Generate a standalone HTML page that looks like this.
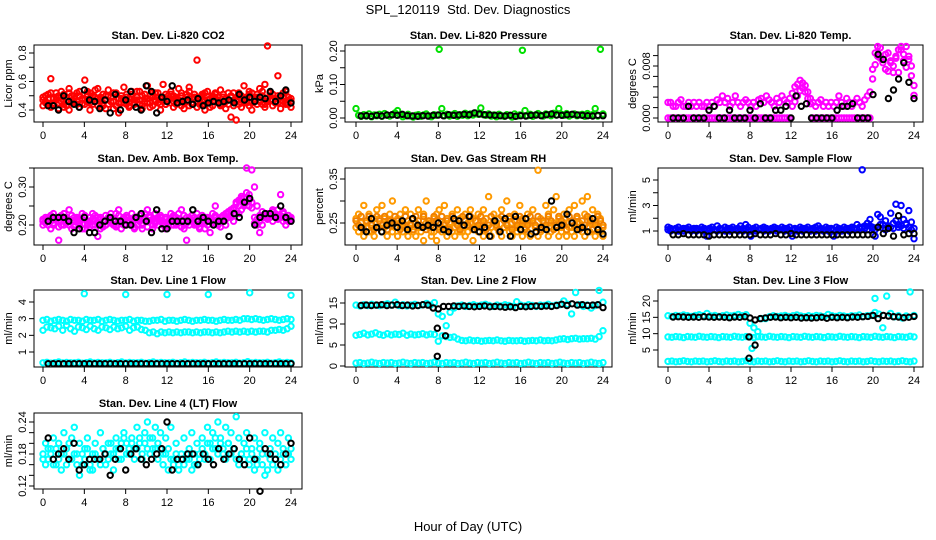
<!DOCTYPE html>
<html><head><meta charset="utf-8"><style>
body{margin:0;background:#fff}
svg{display:block;font-family:"Liberation Sans",sans-serif}
</style></head><body>
<svg id="c" width="936" height="540" viewBox="0 0 936 540" xmlns="http://www.w3.org/2000/svg">
<text x="468" y="14" font-size="13" text-anchor="middle">SPL_120119&#160; Std. Dev. Diagnostics</text>
<text x="468" y="531" font-size="13" text-anchor="middle">Hour of Day (UTC)</text>
</svg>
<script>
const xTickHours=[0,4,8,12,16,20,24];
const co2RedA=[0.47,0.50,0.44,0.62,0.48,0.52,0.45,0.49,0.51,0.43,0.55,0.46,0.50,0.44,0.53,0.48,0.61,0.46,0.52,0.44,0.49,0.55,0.47,0.43,0.50,0.54,0.46,0.41,0.52,0.48,0.45,0.56,0.49,0.43,0.51,0.47,0.53,0.44,0.50,0.46,0.57,0.42,0.49,0.52,0.45,0.48,0.58,0.44,0.50,0.53,0.46,0.49,0.55,0.43,0.47,0.51,0.56,0.45,0.48,0.75,0.44,0.50,0.46,0.53,0.42,0.49,0.51,0.47,0.54,0.44,0.48,0.52,0.35,0.46,0.33,0.50,0.45,0.57,0.48,0.43,0.52,0.46,0.49,0.55,0.44,0.58,0.85,0.47,0.51,0.45,0.64,0.49,0.46,0.53,0.44,0.48];
const co2RedB=[0.43,0.46,0.51,0.42,0.45,0.49,0.41,0.53,0.44,0.47,0.40,0.50,0.45,0.52,0.42,0.48,0.44,0.51,0.40,0.47,0.54,0.43,0.49,0.45,0.41,0.50,0.46,0.52,0.43,0.38,0.48,0.45,0.51,0.42,0.49,0.44,0.47,0.53,0.41,0.48,0.45,0.50,0.43,0.46,0.52,0.40,0.49,0.44,0.47,0.51,0.42,0.48,0.45,0.50,0.41,0.46,0.53,0.44,0.49,0.42,0.47,0.51,0.40,0.45,0.48,0.43,0.52,0.46,0.44,0.49,0.41,0.47,0.50,0.43,0.46,0.52,0.42,0.48,0.45,0.51,0.40,0.47,0.44,0.49,0.53,0.42,0.46,0.50,0.43,0.48,0.45,0.41,0.49,0.44,0.47,0.42];
const co2RedC=[0.49,0.45,0.48,0.52,0.44,0.47,0.50,0.46,0.42,0.49,0.52,0.45,0.48,0.46,0.50,0.44,0.47,0.53,0.45,0.50,0.46,0.48,0.42,0.51,0.47,0.44,0.49,0.46,0.51,0.45,0.50,0.47,0.44,0.48,0.53,0.45,0.49,0.47,0.43,0.51,0.48,0.45,0.52,0.47,0.49,0.44,0.46,0.51,0.48,0.45,0.50,0.44,0.47,0.52,0.45,0.49,0.43,0.48,0.51,0.46,0.49,0.44,0.52,0.47,0.45,0.50,0.46,0.49,0.43,0.51,0.46,0.44,0.49,0.52,0.47,0.44,0.50,0.46,0.49,0.53,0.45,0.48,0.51,0.46,0.50,0.44,0.48,0.52,0.47,0.45,0.50,0.47,0.52,0.45,0.49,0.46];
const co2Black=[0.43,0.43,0.40,0.50,0.46,0.44,0.42,0.54,0.47,0.46,0.41,0.47,0.38,0.51,0.40,0.47,0.53,0.42,0.40,0.57,0.53,0.38,0.49,0.46,0.57,0.45,0.46,0.47,0.44,0.48,0.43,0.45,0.46,0.45,0.46,0.47,0.45,0.51,0.47,0.49,0.46,0.49,0.48,0.53,0.46,0.50,0.54,0.45];
const presGreen=[0.028,0.008,0.005,0.010,0.006,0.012,0.004,0.009,0.007,0.011,0.005,0.013,0.008,0.006,0.010,0.015,0.022,0.009,0.004,0.007,0.011,0.006,0.003,0.008,0.010,0.005,0.009,0.012,0.006,0.004,0.010,0.008,0.205,0.028,0.007,0.011,0.006,0.009,0.013,0.005,0.010,0.008,0.014,0.007,0.012,0.009,0.015,0.011,0.030,0.010,0.008,0.012,0.006,0.009,0.004,0.011,0.007,0.005,0.010,0.008,0.003,0.012,0.006,0.009,0.202,0.022,0.007,0.011,0.005,0.009,0.013,0.008,0.006,0.012,0.010,0.007,0.014,0.009,0.028,0.011,0.008,0.013,0.006,0.010,0.012,0.007,0.009,0.011,0.005,0.013,0.008,0.010,0.028,0.006,0.205,0.012];
const presBlack=[0.006,0.007,0.005,0.008,0.006,0.009,0.010,0.008,0.011,0.007,0.006,0.005,0.007,0.006,0.008,0.009,0.007,0.010,0.008,0.009,0.011,0.010,0.015,0.012,0.010,0.009,0.008,0.007,0.006,0.008,0.005,0.007,0.006,0.008,0.009,0.007,0.010,0.012,0.009,0.008,0.010,0.011,0.009,0.008,0.007,0.006,0.008,0.007];
const tempMagLow=[0,0,0,0,0,0,0,0,0,0,0,0,0,0,0,0,0,0,0,0,0,0,0,0,0,0,0,0,0,0,0,0,0,0,0,0,0,0,0,0,0,0,0,0,0,0,0,0,0.0018,0.0025,0.0034,0.0042,0.0046,0.0040,0.0030,0.0022,0,0,0,0,0,0,0,0,0,0,0,0,0,0,0,0,0,0,0,0,0,0,0,0.0060,0.0082,0.0095,0.0108,0.0090,0.0075,0.0100,0.0085,0.0070,0.0092,0.0105,0.0110,0.0088,0.0078,0.0095,0.0065,0.0050];
const tempMagHigh=[0.0024,0.0024,0.0018,0.0018,0.0024,0.0028,0.0018,0.0018,0.0024,0.0018,0.0024,0.0018,0.0024,0.0018,0.0018,0.0024,0.0018,0.0024,0.0018,0.0028,0.0024,0.0034,0.0024,0.0030,0.0018,0.0024,0.0034,0.0024,0.0018,0.0024,0.0028,0.0024,0.0018,0.0024,0.0018,0.0028,0.0030,0.0024,0.0034,0.0028,0.0024,0.0018,0.0030,0.0024,0.0034,0.0028,0.0024,0.0030,0.0038,0.0048,0.0052,0.0058,0.0054,0.0050,0.0040,0.0030,0.0024,0.0018,0.0024,0.0028,0.0018,0.0024,0.0018,0.0024,0.0018,0.0024,0.0034,0.0024,0.0018,0.0030,0.0024,0.0018,0.0024,0.0030,0.0024,0.0018,0.0028,0.0034,0.0040,0.0075,0.0100,0.0110,0.0092,0.0085,0.0098,0.0072,0.0088,0.0080,0.0095,0.0070,0.0105,0.0098,0.0110,0.0090,0.0080,0.0035];
const tempBlack=[0,0,0,0.0018,0,0,0,0.0012,0.0018,0,0,0.0012,0,0,0,0.0012,0,0.0022,0,0,0.0012,0.0012,0.0018,0,0.0034,0.0018,0.0022,0,0,0,0,0,0.0012,0.0018,0.0018,0.0022,0,0,0,0.0036,0.0098,0.0090,0.0030,0.0043,0.0060,0.0085,0.0055,0.0030];
const ambMagA=[0.21,0.22,0.20,0.21,0.23,0.22,0.16,0.21,0.20,0.22,0.24,0.21,0.20,0.22,0.21,0.19,0.22,0.20,0.21,0.23,0.20,0.17,0.22,0.21,0.20,0.22,0.23,0.21,0.20,0.24,0.21,0.22,0.20,0.21,0.23,0.22,0.20,0.21,0.19,0.22,0.24,0.21,0.20,0.23,0.22,0.21,0.20,0.22,0.21,0.23,0.20,0.22,0.21,0.24,0.20,0.16,0.22,0.21,0.20,0.23,0.22,0.21,0.19,0.22,0.21,0.23,0.25,0.20,0.22,0.21,0.23,0.22,0.24,0.21,0.26,0.23,0.27,0.25,0.35,0.28,0.26,0.30,0.25,0.18,0.20,0.22,0.23,0.22,0.24,0.23,0.22,0.28,0.23,0.22,0.21,0.22];
const ambMagB=[0.20,0.21,0.22,0.19,0.20,0.22,0.21,0.20,0.23,0.21,0.20,0.19,0.22,0.21,0.20,0.23,0.19,0.21,0.22,0.20,0.21,0.22,0.19,0.21,0.20,0.21,0.22,0.20,0.23,0.21,0.19,0.20,0.22,0.21,0.20,0.19,0.22,0.21,0.20,0.23,0.21,0.22,0.19,0.21,0.20,0.22,0.21,0.19,0.20,0.21,0.22,0.20,0.23,0.21,0.19,0.22,0.20,0.21,0.22,0.20,0.19,0.21,0.22,0.20,0.18,0.21,0.22,0.20,0.21,0.22,0.20,0.23,0.22,0.24,0.23,0.25,0.24,0.27,0.26,0.25,0.345,0.22,0.20,0.21,0.22,0.23,0.22,0.23,0.21,0.22,0.24,0.22,0.21,0.20,0.21,0.21];
const ambMagC=[0.215,0.205,0.215,0.225,0.205,0.215,0.195,0.225,0.215,0.205,0.215,0.225,0.195,0.215,0.205,0.215,0.225,0.205,0.195,0.215,0.225,0.205,0.215,0.195,0.225,0.215,0.205,0.215,0.195,0.225,0.205,0.215,0.225,0.205,0.215,0.195,0.215,0.225,0.205,0.215,0.195,0.225,0.215,0.205,0.215,0.225,0.205,0.215,0.195,0.215,0.225,0.205,0.215,0.195,0.225,0.205,0.215,0.225,0.205,0.215,0.195,0.225,0.205,0.215,0.215,0.205,0.225,0.215,0.195,0.225,0.215,0.235,0.225,0.245,0.255,0.265,0.275,0.255,0.285,0.265,0.245,0.205,0.215,0.225,0.235,0.225,0.215,0.225,0.235,0.225,0.215,0.225,0.235,0.215,0.225,0.215];
const ambBlack=[0.21,0.22,0.22,0.22,0.21,0.18,0.19,0.22,0.18,0.18,0.20,0.21,0.22,0.21,0.21,0.20,0.20,0.22,0.23,0.21,0.18,0.24,0.19,0.19,0.21,0.21,0.21,0.21,0.24,0.21,0.22,0.21,0.20,0.21,0.21,0.17,0.23,0.22,0.26,0.27,0.20,0.22,0.23,0.23,0.22,0.25,0.22,0.21];
const rhOrangeA=[0.26,0.27,0.24,0.29,0.25,0.27,0.23,0.26,0.28,0.24,0.29,0.26,0.25,0.27,0.30,0.24,0.26,0.27,0.25,0.28,0.24,0.27,0.26,0.25,0.28,0.24,0.27,0.30,0.25,0.23,0.26,0.27,0.28,0.24,0.29,0.26,0.25,0.27,0.24,0.28,0.26,0.23,0.27,0.25,0.28,0.26,0.24,0.27,0.25,0.28,0.26,0.31,0.24,0.27,0.25,0.26,0.28,0.24,0.30,0.26,0.25,0.27,0.24,0.29,0.26,0.25,0.27,0.25,0.28,0.24,0.37,0.26,0.25,0.29,0.27,0.25,0.28,0.31,0.26,0.24,0.27,0.25,0.28,0.24,0.29,0.26,0.25,0.30,0.27,0.31,0.26,0.28,0.25,0.27,0.26,0.24];
const rhOrangeB=[0.24,0.23,0.25,0.22,0.24,0.23,0.25,0.22,0.24,0.26,0.23,0.24,0.22,0.25,0.23,0.24,0.22,0.25,0.23,0.24,0.22,0.25,0.23,0.22,0.24,0.23,0.21,0.25,0.24,0.22,0.23,0.21,0.24,0.23,0.25,0.22,0.24,0.23,0.22,0.25,0.23,0.24,0.22,0.23,0.25,0.21,0.24,0.23,0.25,0.22,0.24,0.23,0.22,0.25,0.24,0.23,0.22,0.24,0.25,0.23,0.22,0.24,0.23,0.25,0.22,0.24,0.23,0.22,0.25,0.24,0.22,0.23,0.25,0.24,0.22,0.23,0.25,0.24,0.22,0.23,0.25,0.22,0.24,0.23,0.22,0.25,0.24,0.23,0.22,0.24,0.23,0.25,0.22,0.24,0.23,0.22];
const rhOrangeC=[0.255,0.245,0.265,0.235,0.255,0.265,0.245,0.235,0.265,0.255,0.245,0.265,0.235,0.255,0.245,0.265,0.255,0.235,0.245,0.265,0.255,0.245,0.235,0.265,0.255,0.245,0.265,0.235,0.255,0.245,0.265,0.255,0.235,0.265,0.245,0.255,0.235,0.265,0.255,0.245,0.235,0.265,0.255,0.245,0.265,0.235,0.255,0.245,0.265,0.255,0.235,0.245,0.265,0.255,0.245,0.235,0.265,0.255,0.245,0.265,0.235,0.255,0.245,0.265,0.255,0.235,0.245,0.265,0.255,0.245,0.265,0.235,0.255,0.245,0.265,0.255,0.235,0.245,0.265,0.255,0.245,0.235,0.265,0.255,0.245,0.265,0.235,0.255,0.245,0.265,0.255,0.235,0.245,0.265,0.255,0.245];
const rhBlack=[0.24,0.23,0.26,0.24,0.23,0.245,0.25,0.24,0.255,0.235,0.26,0.245,0.24,0.245,0.24,0.25,0.235,0.23,0.26,0.255,0.245,0.265,0.235,0.23,0.24,0.22,0.255,0.23,0.26,0.22,0.265,0.235,0.26,0.225,0.23,0.24,0.235,0.30,0.24,0.245,0.27,0.25,0.235,0.24,0.23,0.26,0.235,0.225];
const flowBlueA=[1.3,1.2,1.1,1.2,1.3,1.1,1.2,1.2,1.3,1.1,1.2,1.2,1.1,1.3,1.2,0.6,1.2,1.3,1.1,1.4,1.2,1.1,1.3,1.2,1.2,1.3,1.1,1.2,1.4,1.2,1.5,1.3,0.6,1.2,1.3,1.1,1.2,1.3,1.2,1.1,1.2,1.3,1.2,1.1,1.3,1.2,1.2,1.3,0.6,1.2,1.1,1.3,1.2,1.2,1.3,1.1,1.2,1.3,1.4,1.2,1.1,1.3,1.2,1.2,0.6,1.3,1.2,1.1,1.3,1.2,1.2,1.3,1.2,1.5,1.3,5.8,1.4,1.6,1.9,1.3,0.6,2.3,2.1,1.5,1.8,1.3,2.4,1.6,3.1,1.5,3.0,1.9,1.6,2.6,1.7,0.4];
const flowBlueB=[1.1,1.0,1.1,1.1,1.0,1.1,1.0,1.1,1.1,1.0,1.1,1.0,1.1,1.1,1.0,1.1,1.0,1.1,1.1,1.0,1.1,1.1,1.0,1.1,1.0,1.1,1.1,1.0,1.1,1.0,1.1,1.1,1.0,1.1,1.0,1.1,1.1,1.0,1.1,1.0,1.1,1.1,1.0,1.1,1.1,1.0,1.1,1.0,1.1,1.1,1.0,1.1,1.0,1.1,1.1,1.0,1.1,1.0,1.1,1.1,1.0,1.1,1.0,1.1,1.1,1.0,1.1,1.0,1.1,1.1,1.0,1.1,1.2,1.1,1.2,1.3,1.2,1.1,1.4,1.2,1.1,1.3,1.5,1.2,1.1,1.4,1.3,1.2,1.8,1.3,1.4,1.2,1.5,1.3,1.1,1.2];
const flowBlack=[0.7,0.7,0.8,0.7,0.7,0.7,0.7,0.6,0.7,0.7,0.7,0.7,0.7,0.7,0.7,0.7,0.8,0.7,0.7,0.7,0.8,0.7,0.7,0.8,0.7,0.7,0.7,0.7,0.7,0.7,0.7,0.7,0.7,0.7,0.7,0.7,0.7,0.7,0.7,0.7,1.3,0.8,1.2,0.6,2.2,0.7,0.8,0.8];
const l1Top=[2.9,2.95,2.85,2.9,2.95,2.9,2.85,2.95,2.9,2.9,2.85,2.95,2.9,2.9,2.95,2.85,2.9,2.95,2.9,2.85,2.9,2.9,2.95,2.85,2.9,2.9,2.85,2.85,2.9,2.9,2.95,2.85,2.9,2.9,2.85,2.9,2.95,2.9,2.85,2.9,2.9,2.95,2.9,2.9,2.85,2.9,2.95,2.9,2.9,2.95,2.9,3.0,3.0,2.95,3.0,2.95,2.9,2.95,3.0,2.95,2.9,2.95,3.0,2.95];
const l1Mid=[2.3,2.5,2.45,2.4,2.55,2.3,2.6,2.4,2.25,2.5,2.45,2.35,2.55,2.4,2.3,2.5,2.45,2.35,2.5,2.4,2.45,2.55,2.3,2.45,2.5,2.35,2.3,2.15,2.2,2.1,2.2,2.15,2.2,2.15,2.2,2.15,2.2,2.2,2.15,2.2,2.15,2.2,2.2,2.15,2.2,2.15,2.2,2.25,2.2,2.25,2.2,2.25,2.2,2.25,2.2,2.25,2.25,2.2,2.3,2.3,2.35,2.3,2.4,2.55];
const l1Low=[0.35,0.38,0.33,0.36,0.4,0.34,0.37,0.35,0.35,0.38,0.33,0.36,0.4,0.34,0.37,0.35,0.35,0.38,0.33,0.36,0.4,0.34,0.37,0.35,0.35,0.38,0.33,0.36,0.4,0.34,0.37,0.35,0.35,0.38,0.33,0.36,0.4,0.34,0.37,0.35,0.35,0.38,0.33,0.36,0.4,0.34,0.37,0.35,0.35,0.38,0.33,0.36,0.42,0.34,0.37,0.35,0.35,0.38,0.33,0.36,0.4,0.34,0.37,0.35];
const l1OutHours=[4,8,12,16,20,24];
const l1OutVals=[4.5,4.45,4.45,4.45,4.55,4.4];
const l1Black=[0.3,0.3,0.3,0.3,0.3,0.3,0.3,0.3,0.3,0.3,0.3,0.3,0.3,0.3,0.3,0.3,0.3,0.3,0.3,0.3,0.3,0.3,0.3,0.3,0.3,0.3,0.3,0.3,0.3,0.3,0.3,0.3,0.3,0.3,0.3,0.3,0.3,0.3,0.3,0.3,0.3,0.3,0.3,0.3,0.3,0.3,0.3,0.3];
const l2Top=[14.5,14.3,14.6,14.4,14.7,14.5,14.4,14.6,14.8,14.5,15.2,14.4,14.6,14.3,14.5,14.7,14.4,14.6,14.9,14.5,15.1,12.4,11.8,9.6,12.8,13.8,14.3,14.5,14.2,14.4,14.6,14.3,14.5,14.7,14.4,14.2,14.5,14.3,14.6,14.4,14.2,15.3,14.5,14.3,14.6,14.4,14.2,14.5,14.4,14.7,14.3,14.5,14.6,15.5,14.7,12.4,17.5,14.6,14.2,14.5,13.8,14.4,18.0,15.2];
const l2Mid=[7.3,7.5,7.8,7.4,7.6,7.9,7.5,7.3,7.7,7.4,7.6,7.5,7.8,7.3,7.6,7.4,7.5,7.7,7.4,7.6,7.5,5.9,7.2,7.0,6.8,6.9,6.4,6.1,6.0,6.2,6.0,6.1,5.9,6.0,6.1,6.0,6.2,6.0,5.9,6.1,6.0,6.0,6.1,5.9,6.0,6.1,6.0,6.2,6.0,6.1,6.0,6.2,6.4,6.5,6.3,6.5,6.6,6.4,6.5,6.5,6.6,6.4,7.0,8.4];
const l2Low=[0.7,0.8,0.6,0.7,0.9,0.7,0.6,0.8,0.7,0.8,0.6,0.7,0.9,0.7,0.6,0.8,0.7,0.8,0.6,0.7,0.9,0.7,0.6,0.8,0.7,0.8,0.6,0.7,0.9,0.7,0.6,0.8,0.7,0.8,0.6,0.7,0.9,0.7,0.6,0.8,0.7,0.8,0.6,0.7,0.9,0.7,0.6,0.8,0.7,0.8,0.6,0.7,0.9,0.7,0.6,0.8,0.7,0.8,0.6,0.7,0.9,0.7,0.6,0.8];
const l2Black=[14.4,14.5,14.4,14.5,14.6,14.4,14.5,14.6,14.4,14.5,14.3,14.4,14.6,14.5,13.8,13.6,14.2,14.2,14.3,14.2,14.3,14.2,14.1,14.2,14.3,14.1,14.2,14.1,14.0,14.1,13.9,14.2,14.1,14.2,14.3,14.2,14.3,14.2,14.4,14.7,14.4,14.8,14.5,14.6,14.4,14.5,14.6,13.9];
const l2BlackOutHours=[7.9,7.9,8.7];
const l2BlackOutVals=[9.0,2.3,7.2];
const l3Top=[15.5,15.3,15.6,15.4,15.7,15.5,15.3,15.6,15.8,15.5,16.2,15.4,15.6,15.3,15.5,15.7,15.4,15.6,15.9,15.5,15.8,13.2,11.8,10.6,14.6,14.6,15.2,15.5,15.3,15.4,15.6,15.3,15.5,15.7,15.4,15.2,15.5,15.3,15.6,15.4,15.2,15.9,15.5,15.3,15.6,15.4,15.2,15.5,15.4,15.7,15.3,15.5,15.6,16.5,16.0,11.8,21.5,16.2,15.2,15.5,14.8,15.4,22.8,15.6];
const l3OutHours=[8.2,20.2];
const l3OutVals=[5.5,20.8];
const l3Mid=[9.0,8.9,9.1,9.0,8.8,9.1,9.0,8.9,9.2,9.0,8.9,9.1,9.0,8.8,9.1,9.0,8.9,9.2,9.0,8.9,9.1,9.0,8.8,9.1,9.0,8.9,9.2,9.0,8.9,9.1,9.0,8.8,9.1,9.0,8.9,9.2,9.0,8.9,9.1,9.0,8.8,9.1,9.0,8.9,9.2,9.0,8.9,9.1,9.0,8.8,9.1,9.0,8.9,9.2,9.0,8.9,9.1,9.0,8.8,9.1,9.0,8.9,9.2,9.0];
const l3Low=[1.5,1.6,1.4,1.5,1.7,1.5,1.4,1.6,1.5,1.6,1.4,1.5,1.7,1.5,1.4,1.6,1.5,1.6,1.4,1.5,1.7,1.5,1.4,1.6,1.5,1.6,1.4,1.5,1.7,1.5,1.4,1.6,1.5,1.6,1.4,1.5,1.7,1.5,1.4,1.6,1.5,1.6,1.4,1.5,1.7,1.5,1.4,1.6,1.5,1.6,1.4,1.5,1.7,1.5,1.4,1.6,1.5,1.6,1.4,1.5,1.7,1.5,1.4,1.6];
const l3Black=[15.1,15.2,15.1,15.0,15.1,15.0,15.2,15.1,15.0,15.1,15.0,14.9,15.1,15.0,15.2,14.8,14.2,14.6,14.8,15.0,15.1,14.9,15.0,14.9,15.0,14.8,14.9,14.8,14.9,15.0,14.7,15.0,14.9,15.0,14.9,15.1,15.0,15.2,15.3,15.6,14.6,15.6,15.4,15.2,15.1,14.9,15.0,15.3];
const l3BlackOutHours=[7.9,7.9,8.5];
const l3BlackOutVals=[9.0,2.5,6.5];
const l4CyanA=[0.18,0.20,0.17,0.19,0.21,0.16,0.20,0.18,0.22,0.19,0.17,0.21,0.23,0.18,0.20,0.16,0.19,0.21,0.15,0.18,0.20,0.17,0.22,0.19,0.16,0.20,0.18,0.15,0.21,0.19,0.17,0.22,0.20,0.18,0.21,0.19,0.23,0.20,0.17,0.22,0.24,0.21,0.19,0.23,0.20,0.22,0.18,0.21,0.19,0.23,0.17,0.20,0.16,0.18,0.21,0.17,0.19,0.22,0.16,0.20,0.18,0.21,0.17,0.23,0.20,0.22,0.19,0.24,0.21,0.18,0.23,0.20,0.22,0.19,0.25,0.21,0.18,0.20,0.22,0.17,0.19,0.21,0.16,0.20,0.18,0.22,0.15,0.19,0.21,0.17,0.20,0.22,0.18,0.16,0.21,0.19];
const l4CyanB=[0.17,0.16,0.19,0.18,0.16,0.19,0.17,0.15,0.18,0.16,0.20,0.17,0.18,0.16,0.14,0.18,0.17,0.19,0.16,0.15,0.18,0.17,0.16,0.19,0.18,0.17,0.20,0.18,0.19,0.17,0.20,0.21,0.18,0.19,0.20,0.17,0.19,0.21,0.18,0.20,0.19,0.18,0.21,0.19,0.17,0.19,0.16,0.18,0.15,0.17,0.16,0.18,0.15,0.17,0.16,0.18,0.17,0.15,0.18,0.16,0.17,0.19,0.18,0.20,0.17,0.19,0.21,0.18,0.20,0.19,0.17,0.20,0.18,0.19,0.17,0.16,0.18,0.17,0.19,0.16,0.18,0.15,0.17,0.19,0.16,0.14,0.18,0.17,0.16,0.18,0.15,0.17,0.19,0.16,0.18,0.17];
const l4Black=[0.21,0.17,0.18,0.19,0.17,0.20,0.15,0.16,0.17,0.17,0.17,0.18,0.14,0.17,0.19,0.15,0.18,0.19,0.17,0.16,0.17,0.18,0.19,0.24,0.15,0.17,0.17,0.18,0.18,0.16,0.18,0.17,0.16,0.19,0.17,0.18,0.19,0.17,0.16,0.21,0.17,0.11,0.19,0.18,0.17,0.16,0.18,0.20];

const NS='http://www.w3.org/2000/svg';
const svg=document.getElementById('c');
function mk(tag,attrs,parent){const e=document.createElementNS(NS,tag);for(const k in attrs)e.setAttribute(k,attrs[k]);(parent||svg).appendChild(e);return e;}
function evenHours(n,a,b){const h=[];for(let i=0;i<n;i++)h.push(a+(b-a)*i/(n-1));return h;}
const COLS={L:[34,302,43,291],M:[345,612,356,603],R:[658,923,668,914]};
const ROWS=[[45,122],[168,245],[290,367],[413,489]];

function panel(p){
  const c=COLS[p.col],r=ROWS[p.row];
  const g=mk('g',{});
  
  
  const X=h=>c[2]+(c[3]-c[2])*h/24;
  const Y=v=>p.ya[1]+(v-p.ya[0])*(p.ya[3]-p.ya[1])/(p.ya[2]-p.ya[0]);
  const t=mk('text',{x:(c[0]+c[1])/2,y:r[0]-6,'font-size':11,'font-weight':'bold','text-anchor':'middle'},g);
  t.textContent=p.title;
  
  
  const box=mk('rect',{x:c[0],y:r[0],width:c[1]-c[0],height:r[1]-r[0],fill:'none',stroke:'#000','stroke-width':1},g);
  
  
  const xa=mk('g',{},g);
  
  
  mk('line',{x1:X(0),x2:X(24),y1:r[1],y2:r[1],stroke:'#000'},xa);
  xTickHours.forEach(h=>{
    mk('line',{x1:X(h),x2:X(h),y1:r[1],y2:r[1]+5,stroke:'#000'},xa);
    const l=mk('text',{x:X(h),y:r[1]+17,'font-size':11,'text-anchor':'middle'},xa);
    l.textContent=h;
    
    
  });
  const ya=mk('g',{},g);
  
  
  const yt=p.yticks;
  mk('line',{x1:c[0],x2:c[0],y1:Y(yt[0]),y2:Y(yt[yt.length-1]),stroke:'#000'},ya);
  yt.forEach(v=>mk('line',{x1:c[0]-5,x2:c[0],y1:Y(v),y2:Y(v),stroke:'#000'},ya));
  p.ylabels.forEach((s,i)=>{
    const v=p.ylabelVals[i];
    const l=mk('text',{x:0,y:0,'font-size':11,'text-anchor':'middle',transform:`translate(${c[0]-8},${Y(v)}) rotate(-90)`},ya);
    l.textContent=s;
    
    
  });
  const ytl=mk('text',{x:0,y:0,'font-size':11,'text-anchor':'middle',transform:`translate(${c[0]-22},${(r[0]+r[1])/2}) rotate(-90)`},g);
  ytl.textContent=p.ytitle;
  
  
  p.series.forEach(s=>{
    const sg=mk('g',{fill:'none',stroke:s.color,'stroke-width':2},g);
    
    
    const hrs=s.hours||evenHours(s.vals.length,s.h0??0,s.h1??24);
    s.vals.forEach((v,i)=>{
      const pt=mk('circle',{cx:X(hrs[i]).toFixed(1),cy:Y(v).toFixed(1),r:2.7},sg);
      
      
    });
  });
}
const BK='#000',bh={h0:0.5,h1:24};
panel({name:'panel-co2',col:'L',row:0,title:'Stan. Dev. Li-820 CO2',ytitle:'Licor ppm',ya:[0.4,110,0.8,53],yticks:[0.4,0.5,0.6,0.7,0.8],ylabels:['0.4','0.6','0.8'],ylabelVals:[0.4,0.6,0.8],
 series:[{name:'co2-red-a',color:'#f00',vals:co2RedA},{name:'co2-red-b',color:'#f00',vals:co2RedB},{name:'co2-red-c',color:'#f00',vals:co2RedC},{name:'co2-black',color:BK,vals:co2Black,...bh}]});
panel({name:'panel-pressure',col:'M',row:0,title:'Stan. Dev. Li-820 Pressure',ytitle:'kPa',ya:[0,118,0.2,51],yticks:[0,0.05,0.1,0.15,0.2],ylabels:['0.00','0.10','0.20'],ylabelVals:[0,0.1,0.2],
 series:[{name:'pressure-green',color:'#00e000',vals:presGreen},{name:'pressure-black',color:BK,vals:presBlack,...bh}]});
panel({name:'panel-li820-temp',col:'R',row:0,title:'Stan. Dev. Li-820 Temp.',ytitle:'degrees C',ya:[0,118,0.008,66],yticks:[0,0.0016,0.0032,0.0048,0.0064,0.008,0.0096],ylabels:['0.000','0.008'],ylabelVals:[0,0.008],
 series:[{name:'temp-magenta-low',color:'#f0f',vals:tempMagLow},{name:'temp-magenta-high',color:'#f0f',vals:tempMagHigh},{name:'temp-black',color:BK,vals:tempBlack,...bh}]});
panel({name:'panel-amb-box-temp',col:'L',row:1,title:'Stan. Dev. Amb. Box Temp.',ytitle:'degrees C',ya:[0.2,225,0.3,187],yticks:[0.2,0.25,0.3,0.35],ylabels:['0.20','0.30'],ylabelVals:[0.2,0.3],
 series:[{name:'amb-magenta-a',color:'#f0f',vals:ambMagA},{name:'amb-magenta-b',color:'#f0f',vals:ambMagB},{name:'amb-magenta-c',color:'#f0f',vals:ambMagC},{name:'amb-black',color:BK,vals:ambBlack,...bh}]});
panel({name:'panel-gas-rh',col:'M',row:1,title:'Stan. Dev. Gas Stream RH',ytitle:'percent',ya:[0.25,223,0.35,179],yticks:[0.25,0.3,0.35],ylabels:['0.25','0.35'],ylabelVals:[0.25,0.35],
 series:[{name:'rh-orange-a',color:'#ff9a00',vals:rhOrangeA},{name:'rh-orange-b',color:'#ff9a00',vals:rhOrangeB},{name:'rh-orange-c',color:'#f08000',vals:rhOrangeC},{name:'rh-black',color:BK,vals:rhBlack,...bh}]});
panel({name:'panel-sample-flow',col:'R',row:1,title:'Stan. Dev. Sample Flow',ytitle:'ml/min',ya:[1,231,5,180],yticks:[1,2,3,4,5],ylabels:['1','3','5'],ylabelVals:[1,3,5],
 series:[{name:'flow-blue-a',color:'#00f',vals:flowBlueA},{name:'flow-blue-b',color:'#00f',vals:flowBlueB},{name:'flow-black',color:BK,vals:flowBlack,...bh}]});
panel({name:'panel-line1-flow',col:'L',row:2,title:'Stan. Dev. Line 1 Flow',ytitle:'ml/min',ya:[1,352,4,302],yticks:[1,2,3,4],ylabels:['1','2','3','4'],ylabelVals:[1,2,3,4],
 series:[{name:'line1-top',color:'#0ff',vals:l1Top},{name:'line1-mid',color:'#0ff',vals:l1Mid},{name:'line1-low',color:'#0ff',vals:l1Low},{name:'line1-outliers',color:'#0ff',vals:l1OutVals,hours:l1OutHours},{name:'line1-black',color:BK,vals:l1Black,...bh}]});
panel({name:'panel-line2-flow',col:'M',row:2,title:'Stan. Dev. Line 2 Flow',ytitle:'ml/min',ya:[0,366,15,303],yticks:[0,5,10,15],ylabels:['0','5','10','15'],ylabelVals:[0,5,10,15],
 series:[{name:'line2-top',color:'#0ff',vals:l2Top},{name:'line2-mid',color:'#0ff',vals:l2Mid},{name:'line2-low',color:'#0ff',vals:l2Low},{name:'line2-black',color:BK,vals:l2Black,...bh},{name:'line2-black-outliers',color:BK,vals:l2BlackOutVals,hours:l2BlackOutHours}]});
panel({name:'panel-line3-flow',col:'R',row:2,title:'Stan. Dev. Line 3 Flow',ytitle:'ml/min',ya:[5,350,20,301],yticks:[5,10,15,20],ylabels:['5','10','15','20'],ylabelVals:[5,10,15,20],
 series:[{name:'line3-top',color:'#0ff',vals:l3Top},{name:'line3-outliers',color:'#0ff',vals:l3OutVals,hours:l3OutHours},{name:'line3-mid',color:'#0ff',vals:l3Mid},{name:'line3-low',color:'#0ff',vals:l3Low},{name:'line3-black',color:BK,vals:l3Black,...bh},{name:'line3-black-outliers',color:BK,vals:l3BlackOutVals,hours:l3BlackOutHours}]});
panel({name:'panel-line4-flow',col:'L',row:3,title:'Stan. Dev. Line 4 (LT) Flow',ytitle:'ml/min',ya:[0.12,486,0.24,422],yticks:[0.12,0.14,0.16,0.18,0.2,0.22,0.24],ylabels:['0.12','0.18','0.24'],ylabelVals:[0.12,0.18,0.24],
 series:[{name:'line4-cyan-a',color:'#0ff',vals:l4CyanA},{name:'line4-cyan-b',color:'#0ff',vals:l4CyanB},{name:'line4-black',color:BK,vals:l4Black,...bh}]});
</script>
</body></html>
